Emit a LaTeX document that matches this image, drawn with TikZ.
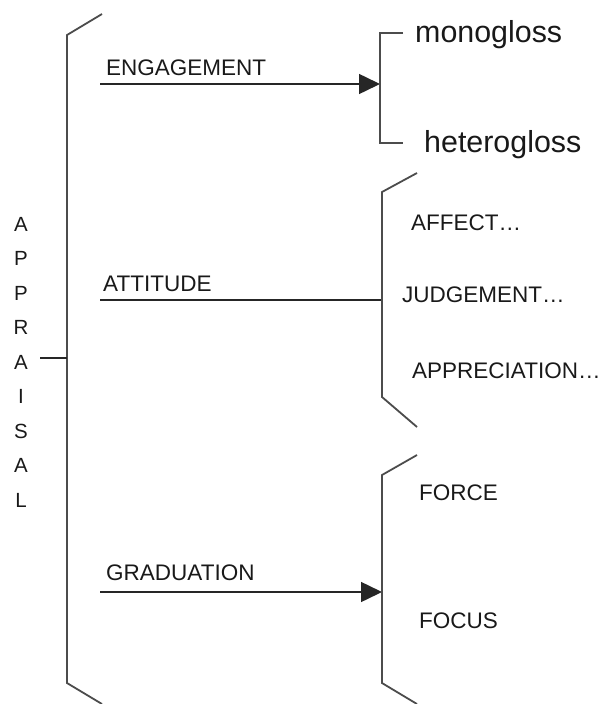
\documentclass[tikz,border=0pt]{standalone}
\usepackage{fontspec}
\setmainfont{Liberation Sans}
\usetikzlibrary{arrows.meta}
\begin{document}
\begin{tikzpicture}[x=1pt,y=-1pt,
  bracket/.style={draw=black!70,line width=1.8pt,line join=miter},
  conn/.style={draw=black!85,line width=1.5pt},
  arr/.style={conn,-{Triangle[length=21pt,width=20pt]}},
  lbl/.style={anchor=base west,inner sep=0pt,font=\fontsize{22.5}{26}\selectfont,text=black!90},
  gloss/.style={anchor=base west,inner sep=0pt,font=\fontsize{30.4}{34}\selectfont,text=black!90},
  letter/.style={anchor=base,inner sep=0pt,font=\fontsize{20.5}{24}\selectfont,text=black!90}]
\useasboundingbox (0,0) rectangle (603,704);
% APPRAISAL vertical letters
\foreach \l [count=\i from 0] in {A,P,P,R,A,I,S,A,L}{
  \node[letter] (ap\i) at (21,{231+34.5*\i}) {\l};
}
% main bracket
\coordinate (mtop) at (67,35);
\coordinate (mbot) at (67,683);
\path[bracket] (102,14) -- (mtop) -- (mbot) -- (102,704);
\coordinate (appr) at (40,358);
\coordinate (apprj) at (67,358);
\draw[conn] (appr) -- (apprj);
% ENGAGEMENT
\node[lbl] (eng) at (106,75) {ENGAGEMENT};
\coordinate (engs) at (100,84);
\coordinate (engt) at (380,84);
\draw[arr] (engs) -- (engt);
\path[bracket,line width=1.6pt] (403,33) -- (380,33) -- (380,143) -- (403,143);
\node[gloss] (mono) at (415,42) {monogloss};
\node[gloss] (hetero) at (424,152) {heterogloss};
% ATTITUDE
\node[lbl] (att) at (103,291) {ATTITUDE};
\coordinate (atts) at (100,300);
\coordinate (attt) at (382,300);
\draw[conn] (atts) -- (attt);
\path[bracket] (417,173) -- (382,192) -- (382,397) -- (417,427);
\node[lbl] (aff) at (411,230) {AFFECT…};
\node[lbl] (jud) at (402,302) {JUDGEMENT…};
\node[lbl] (app) at (412,378) {APPRECIATION…};
% GRADUATION
\node[lbl] (grad) at (106,580) {GRADUATION};
\coordinate (grads) at (100,592);
\coordinate (gradt) at (382,592);
\draw[arr] (grads) -- (gradt);
\path[bracket] (417,455) -- (382,475) -- (382,683) -- (417,704);
\node[lbl] (force) at (419,500) {FORCE};
\node[lbl] (focus) at (419,628) {FOCUS};
\end{tikzpicture}
\end{document}
